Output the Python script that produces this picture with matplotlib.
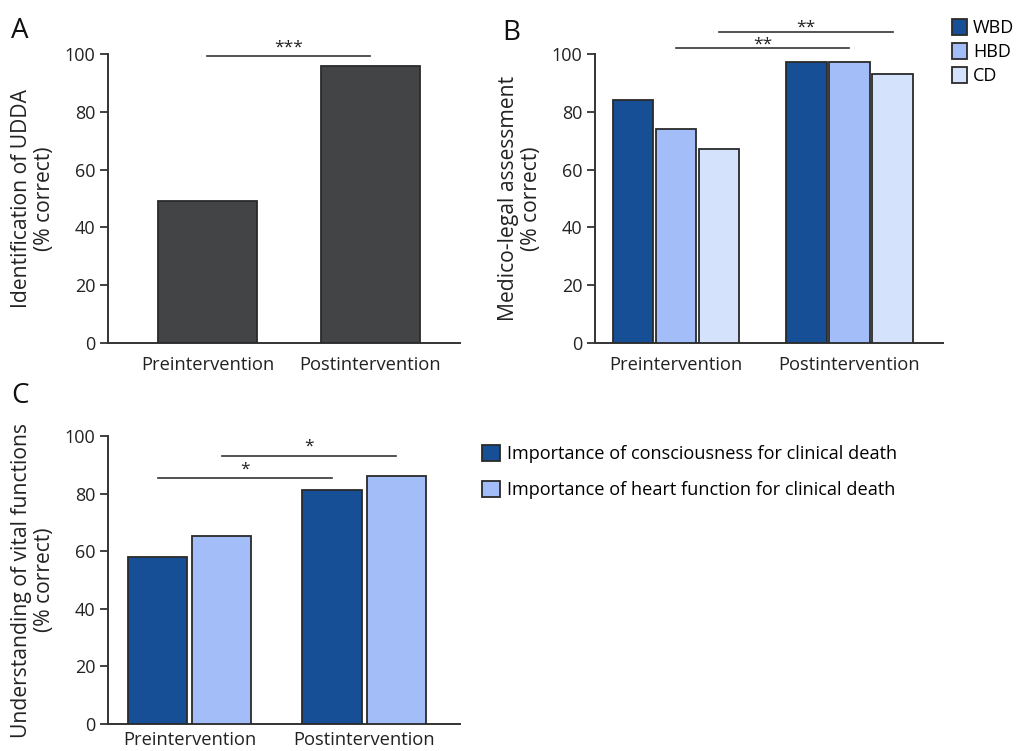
import matplotlib
matplotlib.use("Agg")
import matplotlib.pyplot as plt
import numpy as np

plt.rcParams['font.family'] = ['Open Sans', 'DejaVu Sans']

# Data
groups = ["Preintervention", "Postintervention"]
udda = [49, 96]

ml_series = ["WBD", "HBD", "CD"]
ml_values = {"WBD": [84, 97.3], "HBD": [74, 97.3], "CD": [67, 93]}

vital_series = ["Importance of consciousness for clinical death",
                "Importance of heart function for clinical death"]
vital_values = [[58, 81.3], [65.3, 86.2]]

yticks = [0, 20, 40, 60, 80, 100]

DARK_GREY = "#424446"
BLUE_DARK = "#174f96"
BLUE_MID = "#a2bdf8"
BLUE_LIGHT = "#d4e2fb"
EDGE = "#2a2a2a"
AX = "#333333"

fig = plt.figure(figsize=(10.35, 7.51), dpi=100)
W, H = 1035, 751


def frame(l, r, t, b):
    return [l / W, 1 - b / H, (r - l) / W, (b - t) / H]


def style(ax, ylabel, xlim, xpad=9):
    ax.set_ylim(0, 100)
    ax.set_xlim(*xlim)
    ax.set_yticks(yticks)
    ax.set_xticks(range(len(groups)))
    ax.set_xticklabels(groups, fontsize=13.2, color="#222222")
    ax.tick_params(axis="x", length=0, pad=xpad)
    ax.tick_params(axis="y", length=6, width=1.3, color=AX, labelsize=13,
                   labelcolor="#222222", pad=3)
    for s in ["top", "right"]:
        ax.spines[s].set_visible(False)
    for s in ["left", "bottom"]:
        ax.spines[s].set_color(AX)
        ax.spines[s].set_linewidth(1.4)
    ax.set_ylabel(ylabel, fontsize=15.2, color="#222222", linespacing=1.1, labelpad=7)


def sig(ax, x0, x1, y, text, gap=0.3):
    ax.plot([x0, x1], [y, y], color=AX, lw=1.2, clip_on=False)
    ax.text((x0 + x1) / 2, y + gap, text, ha="center", va="bottom",
            fontsize=12.5, color="#222222", clip_on=False)


x = np.arange(len(groups))

# Panel A
axA = fig.add_axes(frame(108, 460, 54, 343))
axA.bar(x, udda, width=0.607, color=DARK_GREY, edgecolor=EDGE, linewidth=1.3, zorder=3)
style(axA, "Identification of UDDA\n(% correct)", (-0.61, 1.55))
sig(axA, x[0], x[1], 99.2, "***")
fig.text(11 / W, 1 - 31 / H, "A", fontsize=20, va="center", ha="left", color="#111111")

# Panel B
axB = fig.add_axes(frame(595, 943, 54, 343))
offs = [-0.248, 0, 0.248]
colsB = [BLUE_DARK, BLUE_MID, BLUE_LIGHT]
for i, name in enumerate(ml_series):
    axB.bar(x + offs[i], ml_values[name], width=0.232, color=colsB[i],
            edgecolor=EDGE, linewidth=1.3, zorder=3, label=name)
style(axB, "Medico-legal assessment\n(% correct)", (-0.467, 1.539))
sig(axB, x[0] + offs[1], x[1] + offs[1], 102.1, "**", gap=-1.5)
sig(axB, x[0] + offs[2], x[1] + offs[2], 107.7, "**", gap=-1.5)
fig.text(502 / W, 1 - 33 / H, "B", fontsize=20, va="center", ha="left", color="#111111")
axB.legend(loc="upper left", bbox_to_anchor=(952 / W, 1 - 19 / H),
           bbox_transform=fig.transFigure, frameon=False, fontsize=13,
           handlelength=0.85, handleheight=1.0, handletextpad=0.3,
           labelspacing=0.32, borderaxespad=0, borderpad=0)

# Panel C
axC = fig.add_axes(frame(108, 460, 436, 724))
offsC = [-0.184, 0.184]
colsC = [BLUE_DARK, BLUE_MID]
for i, name in enumerate(vital_series):
    axC.bar(x + offsC[i], vital_values[i], width=0.34, color=colsC[i],
            edgecolor=EDGE, linewidth=1.3, zorder=3, label=name)
style(axC, "Understanding of vital functions\n(% correct)", (-0.468, 1.55), xpad=5)
sig(axC, x[0] + offsC[0], x[1] + offsC[0], 85.4, "*")
sig(axC, x[0] + offsC[1], x[1] + offsC[1], 93.2, "*")
fig.text(11 / W, 1 - 396 / H, "C", fontsize=20, va="center", ha="left", color="#111111")
axC.legend(loc="upper left", bbox_to_anchor=(482 / W, 1 - 445 / H),
           bbox_transform=fig.transFigure, frameon=False, fontsize=13.1,
           handlelength=1.0, handleheight=1.0, handletextpad=0.4,
           labelspacing=0.95, borderaxespad=0, borderpad=0)

fig.savefig("out.png", dpi=100)
